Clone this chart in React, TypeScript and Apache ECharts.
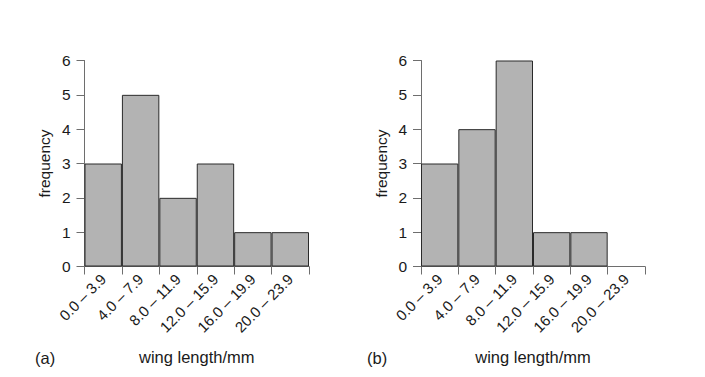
import React, { useEffect, useRef } from "react";
import * as echarts from "echarts";

const categories = ["0.0 – 3.9", "4.0 – 7.9", "8.0 – 11.9", "12.0 – 15.9", "16.0 – 19.9", "20.0 – 23.9"];
const freqA = [3, 5, 2, 3, 1, 1];
const freqB = [3, 4, 6, 1, 1, 0];
const yTicks = [0, 1, 2, 3, 4, 5, 6];
const panelLabels = ["(a)", "(b)"];
const xName = "wing length/mm";
const yName = "frequency";

const FONT = "'Liberation Sans', Arial, Helvetica, sans-serif";
const TEXT = "#1a1a1a";
const AXIS = "#6e6e6e";

export default function App() {
  const ref = useRef<HTMLDivElement>(null);
  useEffect(() => {
    if (!ref.current) return;
    const chart = echarts.init(ref.current, undefined, { renderer: "svg" });
    const grids = [
      { left: 84.5, right: 396, top: 60.5, bottom: 110.5 },
      { left: 421, right: 60, top: 60.5, bottom: 110.5 },
    ];
    const mkX = (i: number) => ({
      type: "category",
      gridIndex: i,
      data: categories,
      boundaryGap: true,
      name: xName,
      nameLocation: "middle",
      nameGap: 82,
      nameTextStyle: { fontFamily: FONT, fontSize: 16.5, color: TEXT },
      axisLine: { show: true, lineStyle: { color: AXIS, width: 1 } },
      axisTick: { show: true, length: 8, alignWithLabel: false, lineStyle: { color: AXIS } },
      axisLabel: { rotate: 45, fontFamily: FONT, fontSize: 15, color: TEXT, margin: 10, interval: 0 },
      splitLine: { show: false },
    });
    const mkY = (i: number) => ({
      type: "value",
      gridIndex: i,
      min: yTicks[0],
      max: yTicks[yTicks.length - 1],
      interval: 1,
      name: yName,
      nameLocation: "middle",
      nameGap: 32,
      nameRotate: 90,
      nameTextStyle: { fontFamily: FONT, fontSize: 15.5, color: TEXT },
      axisLine: { show: true, lineStyle: { color: AXIS, width: 1 } },
      axisTick: { show: true, length: 8, lineStyle: { color: AXIS } },
      axisLabel: { fontFamily: FONT, fontSize: 15.5, color: TEXT, margin: 14 },
      splitLine: { show: false },
    });
    const mkSeries = (i: number, data: number[]) => ({
      type: "bar",
      xAxisIndex: i,
      yAxisIndex: i,
      data: data.map((v) => (v === 0 ? { value: v, itemStyle: { borderWidth: 0 } } : v)),
      barWidth: "100%",
      barCategoryGap: "0%",
      itemStyle: { color: "#b3b3b3", borderColor: "#2a2a2a", borderWidth: 1 },
      emphasis: { disabled: true },
    });
    chart.setOption({
      animation: false,
      textStyle: { fontFamily: FONT },
      grid: grids,
      xAxis: [mkX(0), mkX(1)],
      yAxis: [mkY(0), mkY(1)],
      series: [mkSeries(0, freqA), mkSeries(1, freqB)],
      graphic: [
        { type: "text", left: 35, top: 349, style: { text: panelLabels[0], font: `16.5px ${FONT}`, fill: TEXT } },
        { type: "text", left: 367, top: 349, style: { text: panelLabels[1], font: `16.5px ${FONT}`, fill: TEXT } },
      ],
    });
    return () => chart.dispose();
  }, []);
  return <div ref={ref} style={{ width: 705, height: 377, position: "absolute", left: 0, top: 0 }} />;
}
